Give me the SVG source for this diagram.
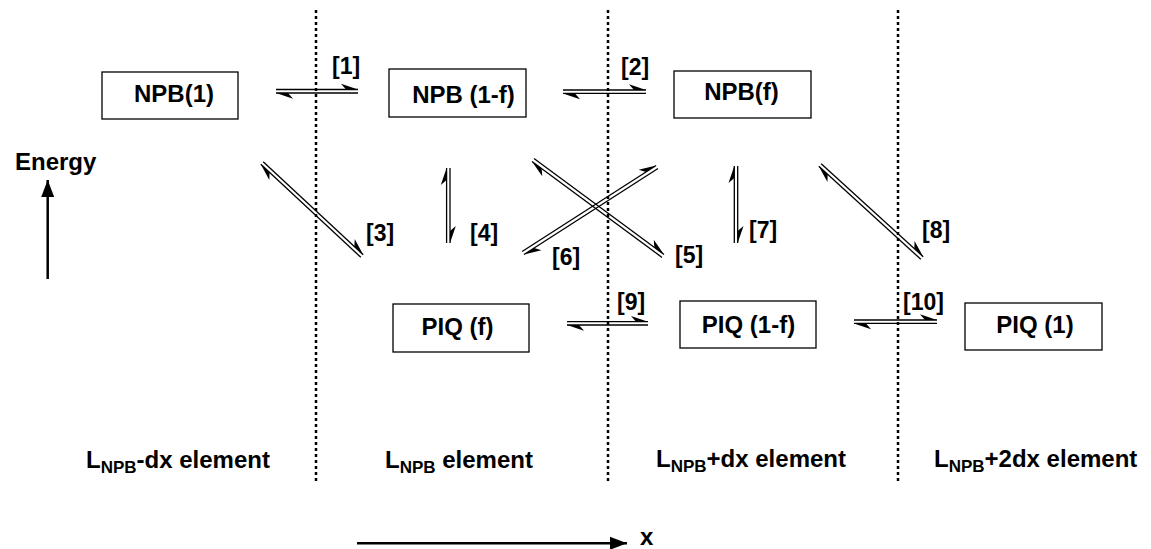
<svg xmlns="http://www.w3.org/2000/svg" width="1151" height="549" viewBox="0 0 1151 549">
<style>
text{font-family:"Liberation Sans",Arial,sans-serif;font-weight:bold;fill:#000}
.t{font-size:24px}
.lb{font-size:23px}
.sub{font-size:17px}
.box{fill:#fff;stroke:#000;stroke-width:1.3}
.div{stroke:#000;stroke-width:2.5;stroke-dasharray:3 3;fill:none}
.r{stroke:#000;stroke-width:1.3;fill:none;marker-end:url(#half)}
.ax{stroke:#000;stroke-width:2.5;fill:none}
</style>
<defs>
<marker id="half" markerUnits="userSpaceOnUse" markerWidth="20" markerHeight="20" refX="0" refY="0" orient="auto" overflow="visible">
<path d="M0,0 L-17,-5.8 L-12,0 Z" fill="#000"/>
</marker>
<marker id="full" markerUnits="userSpaceOnUse" markerWidth="20" markerHeight="20" refX="0" refY="0" orient="auto" overflow="visible">
<path d="M0,0 L-17,-6.5 L-17,6.5 Z" fill="#000"/>
</marker>
</defs>
<g id="dividers">
<line class="div" x1="316" y1="10" x2="316" y2="482"/>
<line class="div" x1="608" y1="10" x2="608" y2="482"/>
<line class="div" x1="898" y1="10" x2="898" y2="482"/>
</g>
<g id="npb1"><rect class="box" x="102" y="72" width="136" height="47"/><text class="t" x="174" y="102" text-anchor="middle">NPB(1)</text></g>
<g id="npb1f"><rect class="box" x="389" y="69" width="137" height="48"/><text class="t" x="463.5" y="103" text-anchor="middle">NPB (1-f)</text></g>
<g id="npbf"><rect class="box" x="674" y="71" width="137" height="47"/><text class="t" x="741.5" y="100" text-anchor="middle">NPB(f)</text></g>
<g id="piqf"><rect class="box" x="393" y="304" width="136" height="48"/><text class="t" x="457.5" y="335" text-anchor="middle">PIQ (f)</text></g>
<g id="piq1f"><rect class="box" x="680" y="301" width="136" height="47"/><text class="t" x="748.5" y="333" text-anchor="middle">PIQ (1-f)</text></g>
<g id="piq1"><rect class="box" x="965" y="303" width="137" height="47"/><text class="t" x="1035" y="333" text-anchor="middle">PIQ (1)</text></g>
<g id="connectors">
<line class="r" x1="276" y1="89.5" x2="358" y2="89.5"/>
<line class="r" x1="358" y1="93" x2="276" y2="93"/>
<line class="r" x1="563" y1="90" x2="646" y2="90"/>
<line class="r" x1="646" y1="93.4" x2="563" y2="93.4"/>
<line class="r" x1="567" y1="321.7" x2="648" y2="321.7"/>
<line class="r" x1="648" y1="325" x2="567" y2="325"/>
<line class="r" x1="854" y1="320" x2="937" y2="320"/>
<line class="r" x1="937" y1="323.4" x2="854" y2="323.4"/>
<line class="r" x1="263.2" y1="161.7" x2="363.2" y2="254.7"/>
<line class="r" x1="360.8" y1="257.3" x2="260.8" y2="164.3"/>
<line class="r" x1="446.6" y1="243" x2="446.6" y2="168"/>
<line class="r" x1="450" y1="168" x2="450" y2="243"/>
<line class="r" x1="534" y1="158.6" x2="664" y2="254.6"/>
<line class="r" x1="662" y1="257.4" x2="532" y2="161.4"/>
<line class="r" x1="522.1" y1="251.5" x2="656.1" y2="165.5"/>
<line class="r" x1="658" y1="168.5" x2="524" y2="254.5"/>
<line class="r" x1="734.3" y1="243" x2="734.3" y2="166"/>
<line class="r" x1="737.7" y1="166" x2="737.7" y2="243"/>
<line class="r" x1="821.2" y1="163.7" x2="923.2" y2="256.7"/>
<line class="r" x1="920.8" y1="259.3" x2="818.8" y2="166.3"/>
</g>
<g id="labels">
<text class="lb" x="332" y="74">[1]</text>
<text class="lb" x="621" y="75">[2]</text>
<text class="lb" x="366" y="241">[3]</text>
<text class="lb" x="470" y="241">[4]</text>
<text class="lb" x="675" y="263">[5]</text>
<text class="lb" x="552" y="265">[6]</text>
<text class="lb" x="749" y="238">[7]</text>
<text class="lb" x="922" y="238">[8]</text>
<text class="lb" x="617" y="310">[9]</text>
<text class="lb" x="903" y="310">[10]</text>
</g>
<g id="energy-axis">
<text class="t" x="15" y="170">Energy</text>
<line class="ax" x1="47.7" y1="279" x2="47.7" y2="180" marker-end="url(#full)"/>
</g>
<g id="x-axis">
<line class="ax" x1="357" y1="543.3" x2="627" y2="543.3" marker-end="url(#full)"/>
<text class="t" x="640" y="545" font-size="22">x</text>
</g>
<g id="element-labels">
<text class="t" x="86" y="468">L<tspan class="sub" dy="5">NPB</tspan><tspan dy="-5">-dx element</tspan></text>
<text class="t" x="385" y="468">L<tspan class="sub" dy="5">NPB</tspan><tspan dy="-5"> element</tspan></text>
<text class="t" x="656" y="467">L<tspan class="sub" dy="5">NPB</tspan><tspan dy="-5">+dx element</tspan></text>
<text class="t" x="934" y="467">L<tspan class="sub" dy="5">NPB</tspan><tspan dy="-5">+2dx element</tspan></text>
</g>
</svg>
